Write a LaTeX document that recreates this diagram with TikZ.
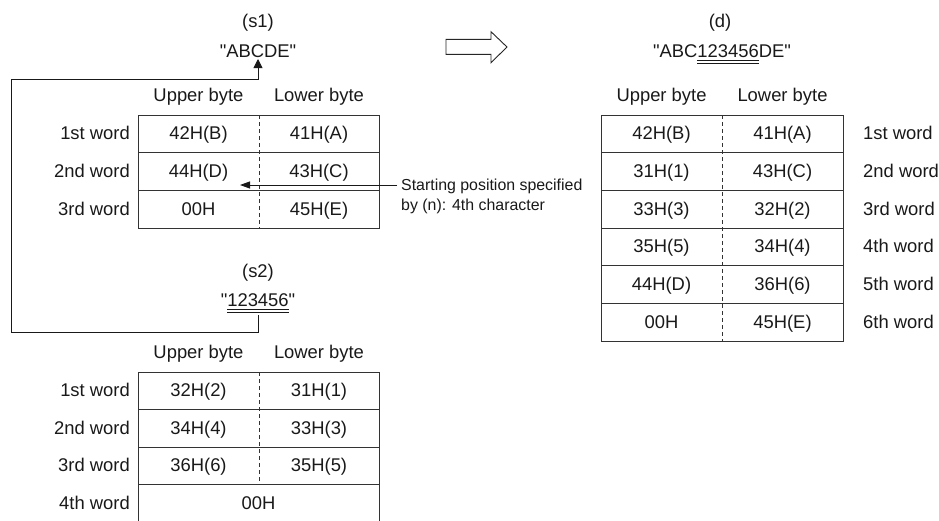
\documentclass[tikz,border=0pt]{standalone}
\usepackage{fontspec}
\setmainfont{Liberation Sans}
\usetikzlibrary{arrows.meta}
% double underline for the inserted characters
\newcommand{\dblund}[1]{\setbox0=\hbox{#1}\rlap{\rule[-3.6pt]{\wd0}{0.8pt}}\rlap{\rule[-6.4pt]{\wd0}{0.8pt}}\box0}
\newcommand{\qt}{\textquotedbl}
\begin{document}
\begin{tikzpicture}[x=1pt,y=-1pt,
    txt/.style={inner sep=0pt,anchor=base,text=black!90,font=\fontsize{18.4}{22}\selectfont},
    lbl/.style={txt,anchor=base east},
    lblr/.style={txt,anchor=base west},
    note/.style={inner sep=0pt,anchor=base west,align=left,text=black!90,font=\fontsize{15.9}{20}\selectfont},
    grid/.style={draw=black!80,line width=0.9pt},
    half/.style={draw=black!80,line width=0.9pt,dash pattern=on 4pt off 3pt},
    conn/.style={draw=black!90,line width=0.9pt}]
\useasboundingbox (0,0) rectangle (939,520);

% source string s1
\node[txt] (s1name) at (258,27) {(s1)};
\node[txt] (s1str) at (258,57.5) {\qt ABCDE\qt};
\node[txt] (s1up) at (198.5,101.6) {Upper byte};
\node[txt] (s1lo) at (319,101.6) {Lower byte};
\draw[grid] (138,115) rectangle (379,228);
\draw[grid] (138,152.7) -- (379,152.7);
\draw[grid] (138,190.3) -- (379,190.3);
\draw[half] (259,115) -- (259,228);
\node[lbl] (s1w1) at (130,139.9) {1st word};
\node[lbl] (s1w2) at (130,177.5) {2nd word};
\node[lbl] (s1w3) at (130,215.2) {3rd word};
\node[txt] (s1a1) at (198.5,139.9) {42H(B)};
\node[txt] (s1b1) at (319,139.9) {41H(A)};
\node[txt] (s1a2) at (198.5,177.5) {44H(D)};
\node[txt] (s1b2) at (319,177.5) {43H(C)};
\node[txt] (s1a3) at (198.5,215.2) {00H};
\node[txt] (s1b3) at (319,215.2) {45H(E)};

% starting position
\node[note] (start) at (401,210) {Starting position specified\\by (n): 4th character};
\coordinate (startend) at (240,185);
\draw[conn,-{Triangle[length=10pt,width=7pt]}] ([xshift=-4pt]start.base west |- startend) -- (startend);

% source string s2
\node[txt] (s2name) at (258,277) {(s2)};
\node[txt] (s2str) at (258,306.5) {\qt\dblund{123456}\qt};
\node[txt] (s2up) at (198.5,358) {Upper byte};
\node[txt] (s2lo) at (319,358) {Lower byte};
\draw[grid] (138,372) rectangle (379,522);
\draw[grid] (138,409.5) -- (379,409.5);
\draw[grid] (138,447) -- (379,447);
\draw[grid] (138,484.5) -- (379,484.5);
\draw[half] (259,372) -- (259,484.5);
\node[lbl] (s2w1) at (130,396.8) {1st word};
\node[lbl] (s2w2) at (130,434.3) {2nd word};
\node[lbl] (s2w3) at (130,471.8) {3rd word};
\node[lbl] (s2w4) at (130,509.3) {4th word};
\node[txt] (s2a1) at (198.5,396.8) {32H(2)};
\node[txt] (s2b1) at (319,396.8) {31H(1)};
\node[txt] (s2a2) at (198.5,434.3) {34H(4)};
\node[txt] (s2b2) at (319,434.3) {33H(3)};
\node[txt] (s2a3) at (198.5,471.8) {36H(6)};
\node[txt] (s2b3) at (319,471.8) {35H(5)};
\node[txt] (s2c4) at (258.5,509.3) {00H};

% s2 is inserted into s1
\coordinate (loopA) at (11,332);
\coordinate (loopB) at (11,79);
\draw[conn,-{Triangle[length=9pt,width=9pt]}] ([yshift=-8.5pt]s2str.base) |- (loopA) -- (loopB) -| ([yshift=-1.5pt]s1str.base);

% result
\draw[draw=black!85,fill=white,line width=0.9pt] (446,39.3) -- (491,39.3) -- (491,31.7) -- (507,47) -- (491,62.7) -- (491,54.3) -- (446,54.3) -- cycle;

\node[txt] (dname) at (720,27) {(d)};
\node[txt] (dstr) at (722,57.5) {\qt ABC\dblund{123456}DE\qt};
\node[txt] (dup) at (661.5,101.6) {Upper byte};
\node[txt] (dlo) at (782.5,101.6) {Lower byte};
\draw[grid] (601,115) rectangle (843,341);
\draw[grid] (601,152.7) -- (843,152.7);
\draw[grid] (601,190.3) -- (843,190.3);
\draw[grid] (601,228) -- (843,228);
\draw[grid] (601,265.7) -- (843,265.7);
\draw[grid] (601,303.3) -- (843,303.3);
\draw[half] (722,115) -- (722,341);
\node[lblr] (dw1) at (863,139.8) {1st word};
\node[lblr] (dw2) at (863,177.5) {2nd word};
\node[lblr] (dw3) at (863,215.2) {3rd word};
\node[lblr] (dw4) at (863,252.8) {4th word};
\node[lblr] (dw5) at (863,290.5) {5th word};
\node[lblr] (dw6) at (863,328.2) {6th word};
\node[txt] (da1) at (661.5,139.8) {42H(B)};
\node[txt] (db1) at (782.5,139.8) {41H(A)};
\node[txt] (da2) at (661.5,177.5) {31H(1)};
\node[txt] (db2) at (782.5,177.5) {43H(C)};
\node[txt] (da3) at (661.5,215.2) {33H(3)};
\node[txt] (db3) at (782.5,215.2) {32H(2)};
\node[txt] (da4) at (661.5,252.8) {35H(5)};
\node[txt] (db4) at (782.5,252.8) {34H(4)};
\node[txt] (da5) at (661.5,290.5) {44H(D)};
\node[txt] (db5) at (782.5,290.5) {36H(6)};
\node[txt] (da6) at (661.5,328.2) {00H};
\node[txt] (db6) at (782.5,328.2) {45H(E)};
\end{tikzpicture}
\end{document}
